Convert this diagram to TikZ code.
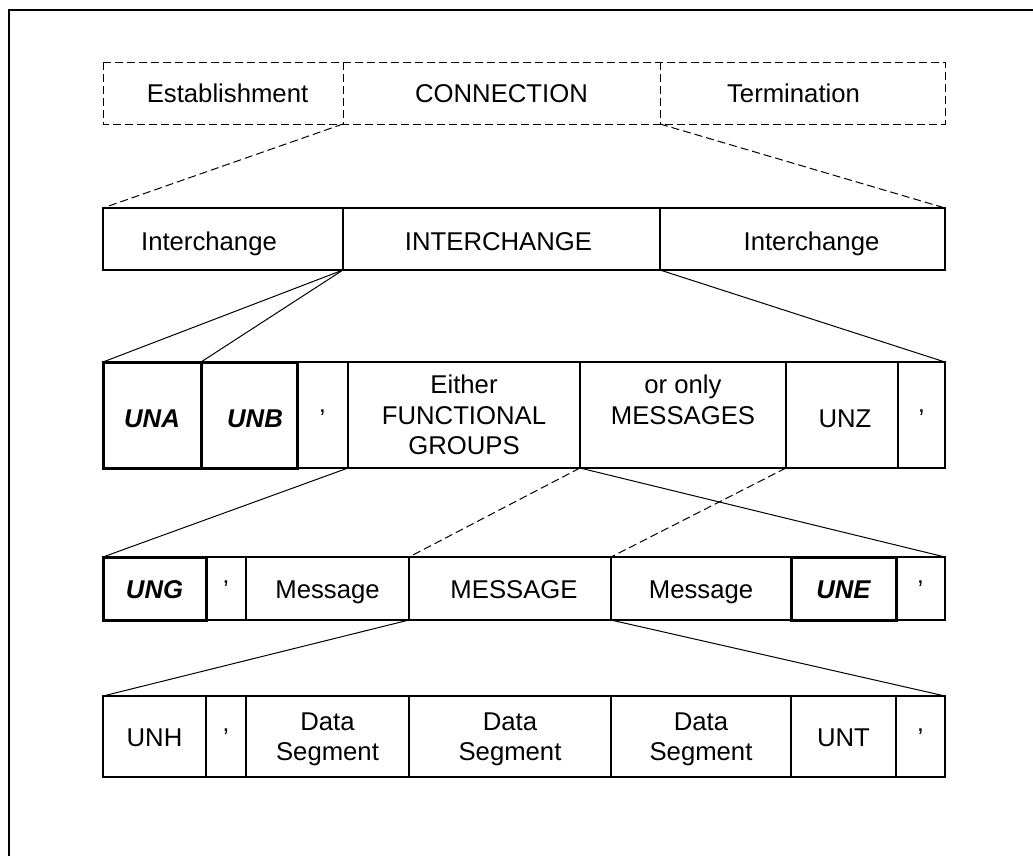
\documentclass[tikz,border=0pt]{standalone}
\usepackage{fontspec}
\setmainfont{Liberation Sans}
\newcommand{\labelsize}{\fontsize{25.7pt}{30.5pt}\selectfont}
\begin{document}
\begin{tikzpicture}[x=1pt,y=-1pt,
  cellbase/.style={inner sep=0pt, outer sep=0pt, align=center, font=\labelsize},
  plain/.style={cellbase, draw=black, line width=1.1pt},
  heavy/.style={cellbase, draw=black, line width=3pt, font=\labelsize\bfseries\itshape},
  ghost/.style={cellbase},
  tline/.style={text height=#1, text depth=0pt},
  dashline/.style={line width=1pt, dash pattern=on 8pt off 4pt},
  link/.style={line width=1pt}]
\useasboundingbox (0,0) rectangle (1033,855);

% outer frame (runs off the right and bottom edges)
\draw[line width=2pt] (1045,10) -- (9,10) -- (9,870);

% ---- connection level (dashed) ----
\begin{scope}[every node/.style={ghost, tline=18.4pt, minimum height=62pt}]
  \node[minimum width=240pt] (est)  at (223,93)   {\hspace*{9pt}Establishment};
  \node[minimum width=317pt] (conn) at (501.5,93) {CONNECTION};
  \node[minimum width=285pt] (term) at (802.5,93) {Termination\hspace*{18pt}};
\end{scope}
\draw[dashline] (est.north west) rectangle (term.south east);
\draw[dashline] (conn.north west) -- (conn.south west);
\draw[dashline] (conn.north east) -- (conn.south east);

% ---- interchange level ----
\begin{scope}[every node/.style={plain, tline=22pt, minimum height=62pt}]
  \node[minimum width=240pt] (int1) at (223,239)   {Interchange\hspace*{28pt}};
  \node[minimum width=317pt] (int2) at (501.5,239) {INTERCHANGE\hspace*{6pt}};
  \node[minimum width=285pt] (int3) at (802.5,239) {\hspace*{18pt}Interchange};
\end{scope}

% ---- interchange contents ----
\begin{scope}[every node/.style={minimum height=106pt}]
  \node[plain, tline=24pt, minimum width=51pt]  (q3a) at (322.5,415) {’};
  \node[plain, text depth=0pt, minimum width=232pt] (fg) at (464,415) {Either\\FUNCTIONAL\\GROUPS};
  \node[plain, text depth=30.5pt, minimum width=206pt] (om) at (683,415) {or only\\MESSAGES};
  \node[plain, tline=24pt, minimum width=112pt] (unz) at (842,415) {\hspace*{6pt}UNZ};
  \node[plain, tline=24pt, minimum width=47pt]  (q3b) at (921.5,415) {’};
  \node[heavy, tline=24pt, minimum width=98pt]  (una) at (152,415) {UNA};
  \node[heavy, tline=24pt, minimum width=96pt]  (unb) at (249,415) {\hspace*{12pt}UNB};
\end{scope}

% ---- functional group level ----
\begin{scope}[every node/.style={minimum height=63pt}]
  \node[plain, tline=19pt, minimum width=40pt]  (q4a)  at (226,588.5)   {’};
  \node[plain, tline=19pt, minimum width=163pt] (msg1) at (327.5,588.5) {Message};
  \node[plain, tline=19pt, minimum width=202pt] (msg)  at (510,588.5)   {\hspace*{8pt}MESSAGE};
  \node[plain, tline=19pt, minimum width=180pt] (msg2) at (701,588.5)   {Message};
  \node[plain, tline=19pt, minimum width=49pt]  (q4b)  at (920.5,588.5) {’};
  \node[heavy, tline=19pt, minimum width=103pt] (ung)  at (154.5,588.5) {UNG};
  \node[heavy, tline=19pt, minimum width=105pt] (une)  at (843.5,588.5) {UNE};
\end{scope}

% ---- message level ----
\begin{scope}[every node/.style={plain, minimum height=81pt}]
  \node[tline=20pt, minimum width=103pt] (unh) at (154.5,736.5) {UNH};
  \node[tline=20pt, minimum width=40pt]  (q5a) at (226,736.5)   {’};
  \node[text depth=0pt, minimum width=163pt] (ds1) at (327.5,736.5) {Data\\Segment};
  \node[text depth=0pt, minimum width=202pt] (ds2) at (510,736.5)   {Data\\Segment};
  \node[text depth=0pt, minimum width=180pt] (ds3) at (701,736.5)   {Data\\Segment};
  \node[tline=20pt, minimum width=105pt] (unt) at (843.5,736.5) {UNT};
  \node[tline=20pt, minimum width=49pt]  (q5b) at (920.5,736.5) {’};
\end{scope}

% ---- expansion lines ----
\draw[dashline] (conn.south west) -- (int1.north west);
\draw[dashline] (conn.south east) -- (int3.north east);

\draw[link] (int2.south west) -- (una.north west);
\draw[link] (int2.south west) -- (unb.north west);
\draw[link] (int2.south east) -- (q3b.north east);

\draw[link] (fg.south west) -- (ung.north west);
\draw[dashline] (fg.south east) -- (msg.north west);
\draw[link] (fg.south east) -- (q4b.north east);
\draw[dashline] (om.south east) -- (msg.north east);

\draw[link] (msg.south west) -- (unh.north west);
\draw[link] (msg.south east) -- (q5b.north east);
\end{tikzpicture}
\end{document}
